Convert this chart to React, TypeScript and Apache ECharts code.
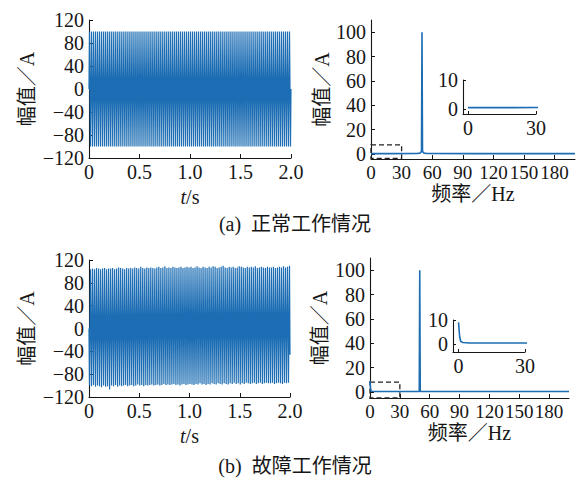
import React, { useEffect, useRef } from 'react';
import * as echarts from 'echarts';

// ---------- data ----------
const SIGNAL_FREQ_HZ = 50; // fundamental: 100 cycles in 2 s

// normal operation: per-cycle positive peaks / negative troughs (A)
const normalPeaks = [
  100, 100, 100, 100, 100, 100, 100, 100, 100, 100,
  100, 100, 100, 100, 100, 100, 100, 100, 100, 100,
  100, 100, 100, 100, 100, 100, 100, 100, 100, 100,
  100, 100, 100, 100, 100, 100, 100, 100, 100, 100,
  100, 100, 100, 100, 100, 100, 100, 100, 100, 100,
  100, 100, 100, 100, 100, 100, 100, 100, 100, 100,
  100, 100, 100, 100, 100, 100, 100, 100, 100, 100,
  100, 100, 100, 100, 100, 100, 100, 100, 100, 100,
  100, 100, 100, 100, 100, 100, 100, 100, 100, 100,
  100, 100, 100, 100, 100, 100, 100, 100, 100, 100,
];
const normalTroughs = [
  -100, -100, -100, -100, -100, -100, -100, -100, -100, -100,
  -100, -100, -100, -100, -100, -100, -100, -100, -100, -100,
  -100, -100, -100, -100, -100, -100, -100, -100, -100, -100,
  -100, -100, -100, -100, -100, -100, -100, -100, -100, -100,
  -100, -100, -100, -100, -100, -100, -100, -100, -100, -100,
  -100, -100, -100, -100, -100, -100, -100, -100, -100, -100,
  -100, -100, -100, -100, -100, -100, -100, -100, -100, -100,
  -100, -100, -100, -100, -100, -100, -100, -100, -100, -100,
  -100, -100, -100, -100, -100, -100, -100, -100, -100, -100,
  -100, -100, -100, -100, -100, -100, -100, -100, -100, -100,
];
const normalStart = [0, 0];
const normalEnd = [2.0, 0];

// fault operation: per-cycle troughs / peaks (A)
const faultTroughs = [
  -100, -101, -99, -102, -100, -101, -103, -100, -102, -101,
  -107, -100, -101, -99, -102, -100, -101, -100, -99, -101,
  -100, -99, -101, -100, -98, -100, -99, -101, -99, -100,
  -99, -98, -100, -99, -98, -100, -99, -97, -99, -98,
  -99, -98, -97, -99, -98, -100, -98, -97, -99, -98,
  -97, -98, -99, -97, -98, -96, -98, -97, -99, -97,
  -98, -96, -97, -98, -96, -97, -98, -96, -97, -98,
  -96, -97, -95, -97, -96, -98, -96, -97, -95, -96,
  -97, -96, -95, -97, -96, -95, -97, -96, -95, -96,
  -96, -95, -97, -96, -95, -96, -97, -95, -96, -95,
];
const faultPeaks = [
  104, 105, 104, 106, 105, 104, 105, 106, 104, 105,
  105, 106, 104, 105, 107, 106, 105, 104, 106, 105,
  106, 105, 107, 106, 105, 108, 106, 105, 107, 106,
  107, 106, 105, 107, 108, 106, 107, 109, 106, 107,
  106, 108, 107, 106, 107, 108, 106, 107, 108, 107,
  108, 106, 107, 109, 107, 106, 108, 107, 106, 108,
  107, 109, 108, 106, 107, 108, 110, 107, 106, 108,
  107, 108, 106, 107, 109, 108, 107, 106, 108, 107,
  108, 107, 109, 106, 107, 108, 107, 106, 108, 107,
  107, 108, 106, 107, 108, 107, 109, 107, 108, 110,
];
const faultStart = [0, 0];
const faultEnd = [2.0, -46];

// spectra (Hz, A)
const normalSpecFreq = [0, 20, 45, 48, 49, 49.5, 50, 50.5, 51, 52, 55, 100, 200];
const normalSpecAmp = [0.4, 0.4, 0.5, 0.8, 1.5, 3, 100, 3, 1.5, 0.8, 0.5, 0.4, 0.4];
const faultSpecFreq = [0, 0.5, 1, 2, 5, 49.5, 50, 50.5, 100, 200];
const faultSpecAmp = [9, 3, 1, 0.6, 0.4, 0.4, 100, 0.4, 0.4, 0.4];

// zoom boxes drawn on the spectra
const normalBoxFreq = [0, 30];
const normalBoxAmp = [-3.5, 7.6];
const faultBoxFreq = [0, 30];
const faultBoxAmp = [-5, 8];

// ticks
const timeTicks = [0, 0.5, 1.0, 1.5, 2.0];
const currentTicks = [-120, -80, -40, 0, 40, 80, 120];
const freqTicks = [0, 30, 60, 90, 120, 150, 180];
const ampTicks = [0, 20, 40, 60, 80, 100];
const insetFreqTicks = [0, 30];
const insetAmpTicks = [0, 10];

const captionA = '(a)  正常工作情况';
const captionB = '(b)  故障工作情况';

// ---------- helpers ----------
const BLUE = '#1c6db3';
const INK = '#161616';
const SERIF = '"Liberation Serif", "Times New Roman", serif';
const MIX = '"Liberation Serif", "Noto Sans CJK SC", serif';
const FS = 20;

function waveform(first: number[], second: number[], start: number[], end: number[]) {
  const pts: number[][] = [start];
  for (let k = 0; k < first.length; k++) {
    pts.push([(k + 0.25) / SIGNAL_FREQ_HZ, first[k]]);
    pts.push([(k + 0.75) / SIGNAL_FREQ_HZ, second[k]]);
  }
  pts.push(end);
  return pts;
}
const zip = (xs: number[], ys: number[]) => xs.map((x, i) => [x, ys[i]]);
const minusFmt = (v: number) => (v < 0 ? '\u2212' + Math.abs(v) : String(v));
const timeFmt = (v: number) => (v === 0 ? '0' : v.toFixed(1));

function axis(extra: any) {
  const { tick, label, ...rest } = extra;
  return {
    type: 'value',
    splitLine: { show: false },
    axisLine: { show: true, onZero: false, lineStyle: { color: INK, width: 1.1 } },
    axisTick: { show: true, inside: true, length: 4, lineStyle: { color: INK, width: 1 }, ...(tick || {}) },
    axisLabel: {
      color: INK, fontFamily: SERIF, fontSize: FS, margin: 5,
      hideOverlap: false, showMinLabel: true, showMaxLabel: true,
      ...(label || {}),
    },
    nameTextStyle: { color: INK, fontFamily: MIX, fontSize: FS },
    ...rest,
  };
}

export default function App() {
  const ref = useRef<HTMLDivElement>(null);
  useEffect(() => {
    if (!ref.current) return;
    const chart = echarts.init(ref.current, undefined, { renderer: 'svg' });

    const timeX = (name: boolean) =>
      axis({
        min: timeTicks[0],
        max: timeTicks[timeTicks.length - 1],
        interval: timeTicks[1] - timeTicks[0],
        label: { formatter: timeFmt, margin: 4 },
        name: name ? '{i|t}/s' : '',
        nameLocation: 'middle',
        nameGap: 29,
        nameTextStyle: {
          color: INK, fontFamily: SERIF, fontSize: FS,
          rich: { i: { fontStyle: 'italic', fontFamily: SERIF, fontSize: FS, color: INK } },
        },
      });
    const timeY = () =>
      axis({
        min: currentTicks[0],
        max: currentTicks[currentTicks.length - 1],
        interval: currentTicks[1] - currentTicks[0],
        label: { formatter: minusFmt },
        name: '幅值／A',
        nameLocation: 'middle',
        nameGap: 52,
      });
    const freqX = () =>
      axis({
        min: 0, max: 200,
        tick: { customValues: freqTicks },
        label: { customValues: freqTicks, margin: 4, fontSize: 19 },
        name: '频率／Hz',
        nameLocation: 'middle',
        nameGap: 25,
      });
    const ampY = (min: number, gap: number) =>
      axis({
        min, max: 110,
        tick: { customValues: ampTicks },
        label: { customValues: ampTicks },
        name: '幅值／A',
        nameLocation: 'middle',
        nameGap: gap,
      });
    const insetX = (min: number) =>
      axis({
        min, max: 30,
        tick: { customValues: insetFreqTicks, length: 3 },
        label: { customValues: insetFreqTicks, margin: 4 },
      });
    const insetY = (min: number) =>
      axis({
        min, max: 10,
        tick: { customValues: insetAmpTicks, length: 3 },
        label: { customValues: insetAmpTicks, margin: 5 },
      });

    const lineSeries = (i: number, data: number[][], width: number, extra: any = {}) => ({
      type: 'line',
      xAxisIndex: i,
      yAxisIndex: i,
      data,
      symbol: 'none',
      showSymbol: false,
      silent: true,
      clip: true,
      lineStyle: { color: BLUE, width },
      ...extra,
    });
    const box = (fx: number[], fy: number[]) => ({
      markArea: {
        silent: true,
        itemStyle: { color: 'rgba(0,0,0,0)', borderColor: '#222', borderWidth: 1.3, borderType: [5, 3] },
        data: [[{ coord: [fx[0], fy[1]] }, { coord: [fx[1], fy[0]] }]],
      },
    });

    const normalSpec = zip(normalSpecFreq, normalSpecAmp);
    const faultSpec = zip(faultSpecFreq, faultSpecAmp);

    chart.setOption({
      animation: false,
      grid: [
        { left: 89, top: 20, width: 202, height: 138 },
        { left: 371, top: 20, width: 204, height: 139 },
        { left: 463, top: 80, width: 73, height: 34 },
        { left: 89, top: 260, width: 201, height: 137 },
        { left: 370, top: 258, width: 199, height: 140 },
        { left: 453, top: 320, width: 72, height: 32 },
      ],
      xAxis: [
        { gridIndex: 0, ...timeX(true) },
        { gridIndex: 1, ...freqX() },
        { gridIndex: 2, ...insetX(-2.2) },
        { gridIndex: 3, ...timeX(true) },
        { gridIndex: 4, ...freqX() },
        { gridIndex: 5, ...insetX(-2.5) },
      ],
      yAxis: [
        { gridIndex: 0, ...timeY() },
        { gridIndex: 1, ...ampY(-4, 37) },
        { gridIndex: 2, ...insetY(-1.8) },
        { gridIndex: 3, ...timeY() },
        { gridIndex: 4, ...ampY(-5, 40) },
        { gridIndex: 5, ...insetY(-3.4) },
      ],
      series: [
        lineSeries(0, waveform(normalPeaks, normalTroughs, normalStart, normalEnd), 1.2),
        lineSeries(1, normalSpec, 1.6, box(normalBoxFreq, normalBoxAmp)),
        lineSeries(2, normalSpec, 1.6),
        lineSeries(3, waveform(faultTroughs, faultPeaks, faultStart, faultEnd), 1.2),
        lineSeries(4, faultSpec, 1.6, box(faultBoxFreq, faultBoxAmp)),
        lineSeries(5, faultSpec, 1.6),
      ],
      graphic: [
        {
          type: 'text', x: 295, y: 224, silent: true,
          style: { text: captionA, fill: INK, fontFamily: MIX, fontSize: 20, align: 'center', verticalAlign: 'middle' },
        },
        {
          type: 'text', x: 295, y: 466, silent: true,
          style: { text: captionB, fill: INK, fontFamily: MIX, fontSize: 20, align: 'center', verticalAlign: 'middle' },
        },
      ],
    });
    return () => chart.dispose();
  }, []);
  return <div ref={ref} style={{ position: 'fixed', left: 0, top: 0, width: 585, height: 478, background: '#fff' }} />;
}
